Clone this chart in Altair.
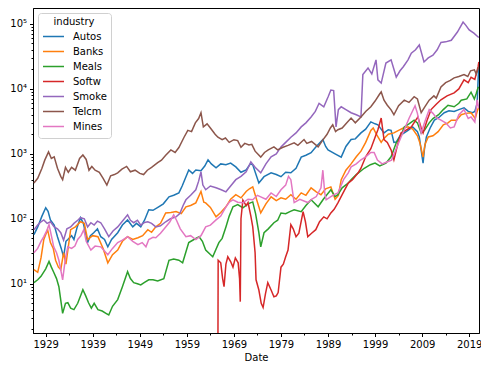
import altair as alt
import pandas as pd

industries = ["Autos", "Banks", "Meals", "Softw", "Smoke", "Telcm", "Mines"]
colors = ["#1f77b4", "#ff7f0e", "#2ca02c", "#d62728", "#9467bd", "#8c564b", "#e377c2"]

autos_years = [1926.5, 1927.3, 1928.2, 1929.0, 1929.5, 1930.0, 1930.8, 1931.5, 1932.3, 1932.8, 1933.3, 1933.7,
               1934.5, 1935.0, 1935.7, 1936.4, 1937.0, 1937.9, 1938.5, 1939.2, 1940.0, 1940.7, 1941.5, 1942.2,
               1943.0, 1944.3, 1945.3, 1946.4, 1947.5, 1948.3, 1949.2, 1950.0, 1950.9, 1951.8, 1953.0, 1954.0,
               1955.2, 1956.2, 1957.3, 1958.0, 1959.4, 1960.2, 1960.9, 1962.0, 1962.8, 1963.5, 1964.2, 1965.2,
               1966.2, 1967.3, 1968.3, 1969.4, 1970.5, 1971.6, 1972.5, 1973.0, 1974.3, 1975.4, 1976.9, 1978.0,
               1979.0, 1980.0, 1981.1, 1982.2, 1983.3, 1984.3, 1985.4, 1986.5, 1987.9, 1988.5, 1989.0, 1990.5,
               1991.8, 1992.8, 1993.9, 1994.8, 1996.0, 1997.0, 1998.1, 1999.0, 1999.6, 2000.9, 2001.8, 2002.4,
               2003.0, 2003.5, 2004.3, 2005.2, 2006.0, 2007.0, 2008.0, 2008.4, 2009.0, 2009.2, 2009.5, 2009.9,
               2010.7, 2011.6, 2012.5, 2013.7, 2014.7, 2015.8, 2016.8, 2017.9, 2018.8, 2019.7, 2020.2, 2020.7,
               2020.9, 2021.05]
autos_vals = [57, 75, 110, 148, 130, 96, 80, 53, 35, 26, 45, 48,
              55, 48, 75, 104, 85, 43, 55, 61, 70, 53, 48, 37,
              48, 61, 80, 96, 75, 85, 75, 95, 138, 135, 153, 170,
              218, 230, 251, 320, 565, 500, 565, 550, 650, 810, 700, 610,
              700, 680, 720, 630, 520, 565, 700, 680, 355, 445, 510, 480,
              445, 520, 510, 600, 890, 950, 1040, 1300, 1660, 1300, 1150, 1000,
              890, 1300, 1660, 1700, 2100, 2400, 3100, 2900, 2800, 2100, 2350, 2300,
              1500, 1520, 1900, 2100, 2300, 2600, 2200, 1820, 900, 720, 1200, 1820,
              2500, 3300, 3600, 4300, 4600, 4500, 4800, 5100, 4500, 4300, 4500, 6000,
              13800, 24000]

banks_years = [1926.5, 1927.3, 1928.0, 1928.6, 1929.4, 1930.0, 1930.6, 1931.1, 1931.7, 1932.2, 1932.8, 1933.3,
               1934.3, 1935.3, 1936.4, 1937.2, 1937.9, 1939.0, 1940.1, 1941.2, 1942.2, 1943.2, 1944.3, 1945.3,
               1946.4, 1947.5, 1948.6, 1949.6, 1950.7, 1951.5, 1952.4, 1953.4, 1954.5, 1955.6, 1956.7, 1957.8,
               1958.8, 1959.8, 1960.9, 1962.0, 1962.6, 1963.0, 1964.0, 1965.2, 1966.2, 1967.3, 1968.3, 1969.4,
               1970.5, 1971.6, 1972.3, 1973.0, 1973.8, 1974.7, 1975.8, 1976.9, 1978.0, 1979.0, 1980.0, 1981.1,
               1982.2, 1983.3, 1984.3, 1985.4, 1986.5, 1987.5, 1988.5, 1989.6, 1990.5, 1991.2, 1991.8, 1992.8,
               1993.9, 1995.0, 1996.0, 1997.0, 1998.1, 1998.6, 1999.3, 2000.3, 2000.8, 2001.8, 2003.0, 2004.0,
               2005.0, 2006.0, 2007.0, 2008.0, 2008.5, 2009.2, 2009.6, 2010.3, 2011.3, 2012.4, 2013.5, 2014.5,
               2015.2, 2016.3, 2017.3, 2018.3, 2019.4, 2020.3, 2020.7, 2021.05]
banks_vals = [16.5, 15, 25, 48, 68, 43, 35, 23, 18, 16.5, 30, 20,
              68, 75, 90, 85, 48, 55, 53, 35, 21, 28, 33, 45,
              53, 48, 51, 55, 68, 62, 75, 85, 123, 125, 129, 120,
              153, 160, 176, 264, 180, 176, 150, 107, 125, 153, 200, 235,
              210, 264, 290, 310, 200, 123, 170, 218, 190, 210, 200, 235,
              200, 251, 230, 300, 260, 235, 290, 310, 200, 230, 400, 560,
              700, 900, 1100, 1500, 2300, 2500, 2000, 1500, 1700, 2000, 2100, 2300,
              2500, 2600, 2400, 1900, 1500, 890, 1400, 1820, 1900, 2200, 2800, 3000,
              3300, 3300, 4000, 4200, 4300, 3500, 4500, 5300]

meals_years = [1926.5, 1927.3, 1928.0, 1929.0, 1929.7, 1930.2, 1930.7, 1931.3, 1931.8, 1932.3, 1932.6, 1933.2,
               1933.7, 1934.3, 1935.0, 1935.8, 1936.9, 1937.5, 1938.1, 1938.7, 1939.3, 1940.1, 1941.0, 1941.8,
               1942.4, 1943.2, 1944.3, 1945.3, 1946.4, 1947.0, 1947.7, 1948.5, 1949.2, 1950.0, 1950.9, 1951.8,
               1952.8, 1954.1, 1955.2, 1956.2, 1957.3, 1958.1, 1959.4, 1960.5, 1961.6, 1962.3, 1963.0, 1964.5,
               1965.8, 1966.5, 1967.3, 1968.0, 1968.8, 1969.8, 1970.9, 1972.0, 1973.0, 1973.6, 1974.3, 1974.7,
               1975.4, 1976.3, 1977.5, 1978.3, 1979.0, 1980.0, 1981.0, 1981.8, 1983.3, 1984.3, 1985.4, 1986.9,
               1988.0, 1989.6, 1990.5, 1991.1, 1992.0, 1993.3, 1993.9, 1995.0, 1996.7, 1998.0, 1999.0, 2000.0,
               2001.3, 2002.4, 2003.5, 2004.5, 2005.2, 2006.2, 2007.3, 2008.0, 2008.8, 2009.5, 2010.5, 2011.3,
               2012.5, 2013.5, 2014.5, 2015.8, 2016.8, 2017.3, 2018.5, 2019.4, 2020.1, 2020.5, 2020.9, 2021.05]
meals_vals = [10.4, 11.5, 13, 17, 22, 18, 15, 12, 9, 5, 3.5, 5,
              5.1, 4.2, 4, 5, 8.1, 6.5, 5.1, 4.2, 5, 4, 3.8, 3.5,
              3.3, 4.5, 5.7, 9, 15.3, 12, 10.4, 10, 9.6, 10.5, 11.5, 11.5,
              11, 12, 23, 24, 23, 21, 43, 48, 53, 45, 33, 26,
              43, 50, 75, 110, 153, 165, 148, 170, 182, 120, 61, 37,
              61, 70, 87, 95, 123, 120, 130, 138, 129, 160, 196, 153,
              200, 280, 220, 235, 300, 355, 400, 480, 600, 680, 720, 650,
              720, 900, 1480, 1900, 2600, 2900, 3300, 3000, 2100, 2300, 3000, 3500,
              4000, 4800, 5600, 5300, 6000, 6700, 7000, 8900, 7000, 8500, 10500, 10700]

softw_years = [1965.55, 1965.65, 1966.2, 1966.6, 1966.9, 1967.3, 1967.7, 1968.3, 1968.8, 1969.3, 1969.9, 1970.2,
               1970.35, 1970.5, 1970.9, 1971.6, 1972.0, 1972.6, 1973.0, 1973.5, 1973.7, 1974.3, 1974.8, 1975.2,
               1975.7, 1976.2, 1976.9, 1977.5, 1978.0, 1978.4, 1979.0, 1979.5, 1980.0, 1980.5, 1981.1, 1981.6,
               1982.2, 1982.8, 1983.7, 1984.2, 1984.7, 1985.5, 1986.4, 1987.2, 1988.1, 1988.8, 1989.6, 1990.3,
               1991.1, 1992.2, 1993.3, 1994.2, 1995.4, 1996.0, 1997.0, 1998.1, 1999.0, 1999.6, 2000.3, 2000.9,
               2001.6, 2002.4, 2003.0, 2003.8, 2004.5, 2005.5, 2006.7, 2008.1, 2008.8, 2009.2, 2010.0, 2010.9,
               2012.0, 2013.0, 2014.3, 2015.8, 2016.8, 2017.9, 2018.8, 2019.4, 2020.2, 2020.9, 2021.05]
softw_vals = [0.05, 23, 21, 12, 9, 20, 26, 22, 18, 25, 21, 12,
              5.3, 100, 194, 160, 178, 110, 75, 30, 11.5, 8, 5, 4.3,
              7, 10.4, 8, 6.3, 6.5, 7.3, 18, 20, 26, 33, 81, 70,
              53, 60, 129, 90, 53, 60, 68, 90, 107, 100, 123, 140,
              176, 250, 355, 400, 510, 600, 900, 1200, 1800, 2350, 3560, 1660,
              1500, 1150, 810, 1400, 2100, 2300, 2600, 3700, 2500, 2100, 3200, 4800,
              5800, 6800, 7800, 8700, 10000, 13800, 12500, 15100, 14000, 22000, 26000]

smoke_years = [1926.5, 1927.3, 1928.0, 1928.6, 1929.3, 1930.0, 1930.8, 1931.5, 1932.2, 1932.8, 1933.5, 1934.3,
               1935.0, 1935.8, 1936.4, 1937.2, 1937.9, 1938.6, 1939.3, 1940.0, 1940.7, 1941.5, 1942.4, 1943.3,
               1944.3, 1945.2, 1946.4, 1947.0, 1947.7, 1948.5, 1949.2, 1950.0, 1950.7, 1951.5, 1952.4, 1953.4,
               1954.5, 1955.5, 1956.7, 1957.5, 1958.2, 1958.8, 1959.8, 1960.9, 1961.5, 1962.0, 1962.4, 1963.0,
               1964.0, 1965.2, 1966.3, 1967.3, 1968.3, 1969.4, 1970.5, 1971.6, 1972.6, 1973.5, 1974.7, 1975.8,
               1976.9, 1978.0, 1979.0, 1980.0, 1981.1, 1982.2, 1983.3, 1984.3, 1985.4, 1986.3, 1987.1, 1988.1,
               1989.0, 1989.6, 1990.2, 1990.7, 1991.2, 1991.8, 1992.8, 1993.9, 1995.0, 1996.0, 1996.4, 1997.5,
               1998.3, 1999.2, 1999.6, 2000.3, 2001.3, 2002.4, 2003.5, 2004.3, 2005.0, 2006.0, 2006.7, 2007.6,
               2008.4, 2009.4, 2010.3, 2011.3, 2012.2, 2013.0, 2014.0, 2015.2, 2016.5, 2017.7, 2018.3, 2019.0,
               2020.0, 2020.9, 2021.05]
smoke_vals = [68, 80, 90, 96, 85, 90, 75, 70, 61, 47, 70, 75,
              85, 95, 104, 100, 75, 87, 80, 92, 87, 70, 53, 65,
              75, 90, 115, 95, 87, 95, 80, 88, 90, 85, 75, 78,
              90, 100, 107, 120, 160, 196, 230, 280, 380, 530, 330, 280,
              320, 300, 280, 260, 320, 400, 450, 530, 750, 620, 510, 700,
              900, 1000, 1280, 1500, 1800, 2100, 2600, 3000, 3700, 4500, 6000, 5300,
              7500, 9600, 9400, 2600, 4800, 5300, 4800, 4300, 4000, 3700, 16600, 21000,
              17000, 28000, 13800, 12300, 25000, 28000, 15200, 19000, 21900, 28000, 35500, 40000,
              47500, 26000, 30000, 33000, 40000, 52000, 53000, 56000, 75000, 107000, 95000, 81000,
              72000, 63000, 62000]

telcm_years = [1926.5, 1927.3, 1928.2, 1928.8, 1929.6, 1930.2, 1930.8, 1931.5, 1932.2, 1932.6, 1933.2, 1933.8,
               1934.5, 1935.3, 1936.2, 1936.9, 1937.6, 1938.2, 1938.8, 1939.5, 1940.4, 1941.2, 1942.0, 1942.8,
               1943.6, 1944.3, 1945.2, 1946.2, 1947.0, 1948.0, 1949.0, 1949.8, 1950.6, 1951.5, 1952.8, 1953.6,
               1954.5, 1955.6, 1956.5, 1957.3, 1958.4, 1959.2, 1960.0, 1960.8, 1961.5, 1962.0, 1962.5, 1963.3,
               1964.0, 1965.0, 1965.6, 1966.5, 1967.2, 1968.0, 1969.0, 1969.8, 1970.5, 1971.3, 1972.2, 1972.8,
               1973.5, 1974.7, 1975.5, 1976.3, 1977.5, 1978.3, 1979.3, 1980.5, 1981.8, 1982.6, 1983.9, 1984.5,
               1985.5, 1986.9, 1987.8, 1988.8, 1989.5, 1990.0, 1990.6, 1991.1, 1992.0, 1993.0, 1993.9, 1994.8,
               1996.0, 1997.0, 1998.1, 1999.0, 1999.9, 2000.3, 2000.9, 2001.6, 2002.4, 2003.0, 2004.0, 2005.2,
               2006.2, 2007.3, 2008.0, 2008.8, 2009.5, 2010.5, 2011.5, 2012.0, 2013.0, 2014.0, 2015.0, 2015.8,
               2016.8, 2017.9, 2018.7, 2019.3, 2020.1, 2020.5, 2021.05]
telcm_vals = [355, 420, 600, 800, 1070, 850, 900, 600, 450, 400, 620, 520,
              620, 560, 850, 960, 820, 560, 640, 560, 520, 420, 330, 460,
              480, 510, 580, 640, 530, 560, 500, 480, 560, 620, 730, 800,
              950, 1150, 1050, 1250, 1800, 2300, 2200, 3000, 3500, 4300, 2600, 2900,
              2500, 2000, 1800, 1650, 1750, 1500, 1650, 1600, 1260, 1450, 1370, 1400,
              1100, 890, 1050, 1150, 1280, 1150, 1250, 1350, 1480, 1350, 1660, 1450,
              1550, 1280, 1600, 2000, 2500, 2800, 2200, 2350, 2500, 3000, 3560, 3000,
              3700, 4500, 5300, 6500, 8200, 8970, 6700, 5600, 4750, 4000, 5500, 6700,
              6200, 7600, 7000, 4300, 5200, 6700, 7800, 7200, 10700, 12500, 13500, 14800,
              15500, 16600, 15500, 19000, 19700, 17000, 22000]

mines_years = [1926.5, 1927.3, 1928.0, 1928.6, 1929.2, 1929.7, 1930.2, 1930.7, 1931.3, 1931.8, 1932.3, 1932.6,
               1933.2, 1933.7, 1934.5, 1935.2, 1935.8, 1936.5, 1937.1, 1937.6, 1938.6, 1939.5, 1940.7, 1941.5,
               1942.2, 1943.2, 1944.3, 1945.3, 1946.4, 1947.5, 1948.6, 1949.5, 1950.3, 1950.9, 1951.8, 1952.4,
               1953.4, 1954.5, 1955.4, 1956.2, 1956.8, 1957.6, 1958.8, 1959.8, 1960.9, 1962.0, 1963.0, 1964.0,
               1965.2, 1966.2, 1967.3, 1968.0, 1968.8, 1969.8, 1970.9, 1972.0, 1973.0, 1974.0, 1974.7, 1975.8,
               1976.9, 1978.0, 1979.0, 1980.0, 1980.6, 1981.1, 1981.8, 1983.0, 1984.7, 1985.5, 1986.5, 1987.5,
               1987.9, 1988.3, 1988.6, 1989.6, 1990.5, 1991.1, 1992.3, 1993.3, 1993.9, 1995.0, 1996.0, 1997.0,
               1998.1, 1998.8, 1999.5, 2000.5, 2001.5, 2002.5, 2003.5, 2004.5, 2005.2, 2006.2, 2007.5, 2008.0,
               2008.8, 2009.5, 2010.5, 2011.3, 2012.0, 2013.0, 2014.0, 2015.0, 2015.8, 2016.8, 2017.9, 2018.8,
               2019.4, 2020.2, 2020.7, 2021.05]
mines_vals = [30, 35, 45, 53, 65, 81, 55, 37, 30, 23, 15, 11.5,
              25, 37, 35, 38, 48, 55, 68, 45, 33, 38, 37, 32,
              28, 35, 43, 47, 53, 45, 40, 43, 37, 48, 52, 51,
              60, 75, 90, 115, 95, 70, 53, 55, 48, 55, 75, 80,
              96, 110, 153, 180, 196, 180, 176, 200, 196, 230, 218, 200,
              250, 220, 280, 330, 450, 400, 178, 200, 178, 200, 220, 300,
              560, 250, 196, 220, 240, 250, 400, 510, 630, 700, 810, 900,
              1050, 1050, 800, 700, 750, 800, 1200, 1800, 2350, 3500, 5500, 4200,
              2100, 3000, 4800, 4200, 3600, 3300, 3000, 2500, 2600, 4000, 4800, 3500,
              3700, 3100, 6800, 5000]

series = [
    ("Autos", autos_years, autos_vals),
    ("Banks", banks_years, banks_vals),
    ("Meals", meals_years, meals_vals),
    ("Softw", softw_years, softw_vals),
    ("Smoke", smoke_years, smoke_vals),
    ("Telcm", telcm_years, telcm_vals),
    ("Mines", mines_years, mines_vals),
]


def to_date(y):
    yr = int(y)
    start = pd.Timestamp(year=yr, month=1, day=1)
    return start + pd.Timedelta(days=(y - yr) * 365.25)


rows = []
for order, (name, yrs, vals) in enumerate(series):
    for y, v in zip(yrs, vals):
        rows.append({"Date": to_date(y), "value": v, "industry": name, "order": order})
df = pd.DataFrame(rows)

y_tick_values = [m * 10 ** k for k in range(0, 6) for m in range(1, 10) if 1.75 <= m * 10 ** k <= 176000]
x_tick_values = [alt.DateTime(year=y, month=1, date=1) for y in range(1929, 2020, 5)]

y_label_expr = ("datum.value == 10 ? '10¹' : datum.value == 100 ? '10²' : datum.value == 1000 ? '10³' : "
                "datum.value == 10000 ? '10⁴' : datum.value == 100000 ? '10⁵' : ''")
y_major_test = "indexof([10,100,1000,10000,100000], datum.value) >= 0"
x_major_test = "year(datum.value) % 10 == 9"

layers = []
for name, yrs, vals in series:
    layers.append(
        alt.Chart(df).transform_filter(alt.datum.industry == name).mark_line(strokeWidth=1.5, clip=True).encode(
            x=alt.X("Date:T",
                    scale=alt.Scale(domain=[alt.DateTime(year=1926, month=4, date=20),
                                            alt.DateTime(year=2021, month=2, date=1)], nice=False),
                    axis=alt.Axis(values=x_tick_values, labelExpr=f"{x_major_test} ? timeFormat(datum.value, '%Y') : ''",
                                  tickSize={"condition": {"test": x_major_test, "value": 3.5}, "value": 2},
                                  title="Date", grid=False, labelOverlap=False, labelFlush=False,
                                  labelPadding=3, titlePadding=3)),
            y=alt.Y("value:Q",
                    scale=alt.Scale(type="log", domain=[1.744, 176000], nice=False),
                    axis=alt.Axis(values=y_tick_values, labelExpr=y_label_expr,
                                  tickSize={"condition": {"test": y_major_test, "value": 3.5}, "value": 2},
                                  title=None, grid=False, labelOverlap=False, labelFlush=False, labelPadding=3)),
            color=alt.Color("industry:N",
                            scale=alt.Scale(domain=industries, range=colors),
                            legend=alt.Legend(title="industry", orient="none", legendX=5, legendY=5,
                                              symbolType="stroke", symbolSize=441, symbolStrokeWidth=1.5,
                                              clipHeight=15, rowPadding=0, labelOffset=8, padding=4,
                                              titleAnchor="middle", titleFontWeight="normal",
                                              titleFontSize=10, labelFontSize=10, titlePadding=2,
                                              fillColor="white", strokeColor="#d0d0d0", cornerRadius=3)),
        )
    )

chart = alt.layer(*layers).properties(
    width=446, height=325,
    autosize=alt.AutoSizeParams(type="none"),
    padding={"left": 25, "top": 0, "right": 2, "bottom": 30},
).configure_view(stroke="black", strokeWidth=1).configure_axis(
    domainColor="black", tickColor="black", labelColor="black", titleColor="black",
    labelFont="DejaVu Sans", titleFont="DejaVu Sans", labelFontSize=10, titleFontSize=10,
    titleFontWeight="normal", domainWidth=1, tickWidth=1,
).configure_legend(labelFont="DejaVu Sans", titleFont="DejaVu Sans", labelColor="black", titleColor="black")

chart.save("out.html", embed_options={"renderer": "svg", "actions": False})
